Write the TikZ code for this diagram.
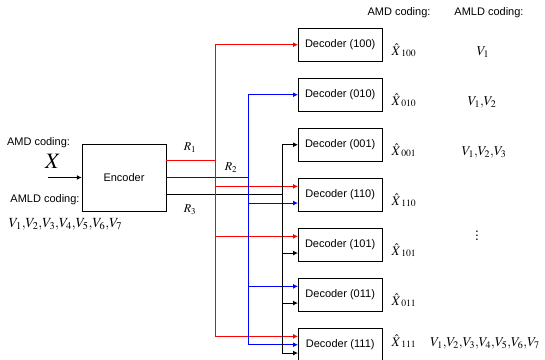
\documentclass[tikz,border=0pt]{standalone}
\usepackage{mathptmx}
\usepackage{fontspec}
\setmainfont{Liberation Sans}
\usetikzlibrary{arrows.meta,calc,positioning}
\newcommand{\Feed}[4]{\path ($(#3.north west)!#4!(#3.south west)$) coordinate (tap);
  \draw[tip,#1] (#2) |- (tap);}
\newcommand{\Xh}[1]{$\hat{X}_{\;#1}$}

\begin{document}
\begin{tikzpicture}[x=1pt,y=-1pt,
  txt/.style={font=\fontsize{11}{13}\selectfont},
  mth/.style={font=\fontsize{12}{14}\selectfont},
  vset/.style={font=\fontsize{13.5}{15}\selectfont,anchor=base},
  box/.style={draw,txt,minimum width=84pt,minimum height=33pt,inner sep=0pt},
  wire/.style={line width=1pt},
  tip/.style={wire,-{Latex[length=5pt,width=5pt]}}]
\useasboundingbox (0,0) rectangle (545,359);

% encoder side
\node[box,minimum height=67pt] (enc) at (124,177.5) {Encoder};
\coordinate (xin) at (48,177.5);
\draw[tip] (xin) -- (enc.west);
\node[txt] (amd) at (38.5,143) {AMD coding:};
\node[font=\fontsize{22}{24}\selectfont] (xx) at (53,161) {$X$};
\node[txt] (amld) at (45,200) {AMLD coding:};
\node[font=\fontsize{14}{16}\selectfont] (vin) at (65.5,224) {$V_1{,}V_2{,}V_3{,}V_4{,}V_5{,}V_6{,}V_7$};

% decoders
\foreach \c/\b [count=\i] in {100/55,010/105,001/155,110/205,101/255,011/305,111/346}{
  \node[box,anchor=north west] (d\c) at (298,-22+50*\i) {Decoder (\c)};
  \node[font=\fontsize{13}{15}\selectfont,anchor=base west] (x\c) at (388,\b) {\Xh{\c}};
}

% rate splits
\path ($(enc.north east)!.25!(enc.south east)$) coordinate (e1) ++(49,0) coordinate (r0);
\path ($(enc.north east)!.5!(enc.south east)$) coordinate (e2) ++(82,0) coordinate (b0);
\path ($(enc.north east)!.75!(enc.south east)$) coordinate (e3) ++(116,0) coordinate (k0);
\draw[wire,red] (e1) -- (r0);
\draw[wire,blue] (e2) -- (b0);
\draw[wire] (e3) -- (k0);
\node[mth] (r1) at (190,148) {$R_1$};
\node[mth] (r2) at (231,168) {$R_2$};
\node[mth] (r3) at (190,210) {$R_3$};

\Feed{red}{r0}{d100}{.5}
\Feed{red}{r0}{d110}{.25}
\Feed{red}{r0}{d101}{.25}
\Feed{red}{r0}{d111}{.25}
\Feed{blue}{b0}{d010}{.5}
\Feed{blue}{b0}{d110}{.75}
\Feed{blue}{b0}{d011}{.25}
\Feed{blue}{b0}{d111}{.5}
\Feed{black}{k0}{d001}{.5}
\Feed{black}{k0}{d101}{.75}
\Feed{black}{k0}{d011}{.75}
\Feed{black}{k0}{d111}{.75}

% right columns
\node[txt] (hamd) at (399,13) {AMD coding:};
\node[txt] (hamld) at (489,13) {AMLD coding:};
\node[vset] (v1) at (483,55) {$V_1$};
\node[vset] (v12) at (482,105) {$V_1{,}V_2$};
\node[vset] (v123) at (484,155) {$V_1{,}V_2{,}V_3$};
\node[vset,anchor=center] (vdots) at (477,233) {$\vdots$};
\node[vset] (vall) at (485,346) {$V_1{,}V_2{,}V_3{,}V_4{,}V_5{,}V_6{,}V_7$};
\end{tikzpicture}
\end{document}
